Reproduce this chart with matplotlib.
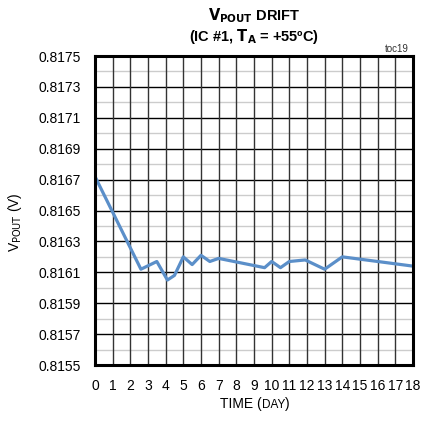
import matplotlib
matplotlib.use("Agg")
import matplotlib.pyplot as plt
import numpy as np

fam = ['Liberation Sans Narrow', 'Liberation Sans', 'DejaVu Sans']
plt.rcParams['font.family'] = fam
plt.rcParams['mathtext.fontset'] = 'custom'
plt.rcParams['mathtext.rm'] = 'Liberation Sans Narrow'
plt.rcParams['mathtext.it'] = 'Liberation Sans Narrow:italic'
plt.rcParams['mathtext.bf'] = 'Liberation Sans Narrow:bold'

# data
days = [0, 2.6, 3.5, 4.1, 4.5, 5.0, 5.5, 6.0, 6.5, 7.0, 9.6, 10.0, 10.5, 11.0, 11.9, 13.0, 14.0, 18.0]
vpout = [0.81672, 0.81612, 0.81617, 0.81605, 0.81608, 0.81620, 0.81615, 0.81621, 0.81617,
         0.81619, 0.81613, 0.81617, 0.81613, 0.81617, 0.81618, 0.81612, 0.81620, 0.81614]
yticks = [0.8155, 0.8157, 0.8159, 0.8161, 0.8163, 0.8165, 0.8167, 0.8169, 0.8171, 0.8173, 0.8175]
xticks = list(range(0, 19))

fig = plt.figure(figsize=(4.25, 4.23), dpi=100)
ax = fig.add_axes([0.2235, 0.1371, 0.7482, 0.7305])

# grid
for yv in np.arange(0.8156, 0.8175, 0.0002):
    ax.axhline(yv, color='#cccccc', lw=1.0, zorder=1)
for yv in yticks:
    ax.axhline(yv, color='black', lw=1.0, zorder=1)
for xv in xticks:
    ax.axvline(xv, color='#333333', lw=1.0, zorder=1)

ax.plot(days, vpout, color='#5b8fc9', lw=2.3, solid_joinstyle='round', zorder=3)

ax.set_xlim(0, 18)
ax.set_ylim(0.8155, 0.8175)
ax.set_xticks(xticks)
ax.set_yticks(yticks)
ax.set_yticklabels(['%.4f' % v for v in yticks])
ax.tick_params(length=0, labelsize=10)
ax.tick_params(axis='x', pad=10)
ax.tick_params(axis='y', pad=10)
for s in ax.spines.values():
    s.set_linewidth(2.2)
    s.set_zorder(4)

fig.text(0.036, 0.475, r'V$_{\mathrm{POUT}}$ (V)', fontsize=10, rotation=90,
         ha='center', va='center')

# x label with smaller "DAY"
t1 = fig.text(0.518, 0.035, 'TIME (', fontsize=10, ha='left', va='baseline')
t2 = fig.text(0, 0, 'DAY', fontsize=8.5, ha='left', va='baseline',
              transform=matplotlib.transforms.IdentityTransform())
fig.canvas.draw()
r = fig.canvas.get_renderer()
bb = t1.get_window_extent(r)
t2.set_position((bb.x1, 0.035 * fig.bbox.height))
bb2 = t2.get_window_extent(r)
fig.text(bb2.x1, 0.035 * fig.bbox.height, ')', fontsize=10, ha='left', va='baseline',
         transform=matplotlib.transforms.IdentityTransform())

fig.text(0.5976, 0.952, r'$\mathbf{V_{POUT}}$ DRIFT', fontsize=10.5, fontweight='bold',
         ha='center', va='baseline')
fig.text(0.5976, 0.902, r'(IC #1, $\mathbf{T_A}$ = +55ºC)', fontsize=10.5, fontweight='bold',
         ha='center', va='baseline')
fig.text(0.962, 0.876, 'toc19', fontsize=7, ha='right', va='baseline', color='#333333')

fig.savefig('out.png', dpi=100)
